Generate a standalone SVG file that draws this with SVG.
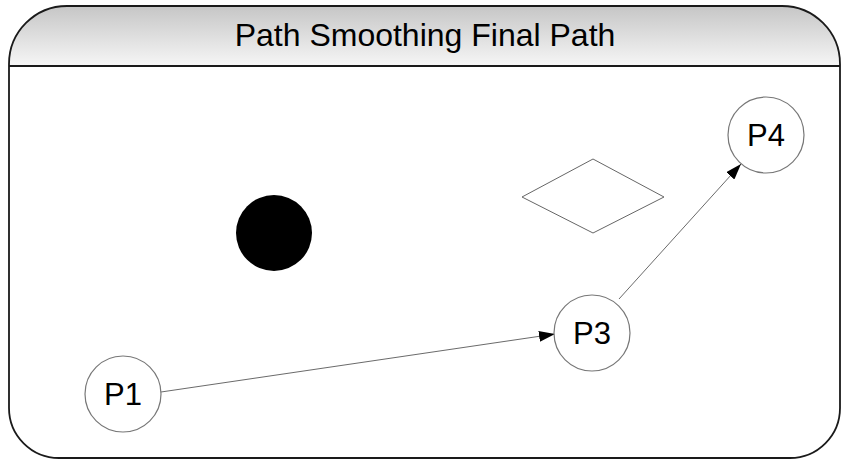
<svg xmlns="http://www.w3.org/2000/svg" width="842" height="460" viewBox="0 0 842 460">
  <defs>
    <linearGradient id="hdr" x1="0" y1="0" x2="0" y2="1">
      <stop offset="0" stop-color="#c6c6c6"/>
      <stop offset="1" stop-color="#f6f6f6"/>
    </linearGradient>
    <marker id="arr" viewBox="0 0 16 11" refX="16" refY="5.5" markerWidth="16" markerHeight="11" markerUnits="userSpaceOnUse" orient="auto">
      <path d="M0,0 L16,5.5 L0,11 Z" fill="#000"/>
    </marker>
    <style>
      .lbl { font-family: "Liberation Sans", Arial, sans-serif; font-size: 31px; fill: #000; text-anchor: middle; }
      .node { fill: #fff; stroke: #777; stroke-width: 1.2; }
      .conn { stroke: #444; stroke-width: 0.8; fill: none; marker-end: url(#arr); }
    </style>
  </defs>
  <rect width="842" height="460" fill="#fff"/>
  <g id="frame">
    <path d="M9,66 L9,64 A58,58 0 0 1 67,6 L782,6 A58,58 0 0 1 840,64 L840,66 Z" fill="url(#hdr)"/>
    <path d="M9,66 L9,64 A58,58 0 0 1 67,6 L782,6 A58,58 0 0 1 840,64 L840,408 A50,50 0 0 1 790,458 L59,458 A50,50 0 0 1 9,408 Z" fill="none" stroke="#1a1a1a" stroke-width="1.8"/>
    <line x1="9" y1="66" x2="840" y2="66" stroke="#1a1a1a" stroke-width="1.8"/>
    <text x="425" y="46" font-family="Liberation Sans, Arial, sans-serif" font-size="32" text-anchor="middle" fill="#000">Path Smoothing Final Path</text>
  </g>
  <g id="obstacle-circle">
    <circle cx="274" cy="233" r="38" fill="#000"/>
  </g>
  <g id="obstacle-diamond">
    <polygon points="522,197 593,159 664,197 593,233" fill="#fff" stroke="#666" stroke-width="1"/>
  </g>
  <g id="connectors">
    <line class="conn" x1="161" y1="392" x2="555" y2="334"/>
    <line class="conn" x1="619" y1="299" x2="741" y2="164"/>
  </g>
  <g id="P1">
    <circle class="node" cx="123" cy="394" r="38"/>
    <text class="lbl" x="123" y="405">P1</text>
  </g>
  <g id="P3">
    <circle class="node" cx="592" cy="333" r="38"/>
    <text class="lbl" x="592" y="344">P3</text>
  </g>
  <g id="P4">
    <circle class="node" cx="766" cy="135" r="38"/>
    <text class="lbl" x="766" y="146">P4</text>
  </g>
</svg>
